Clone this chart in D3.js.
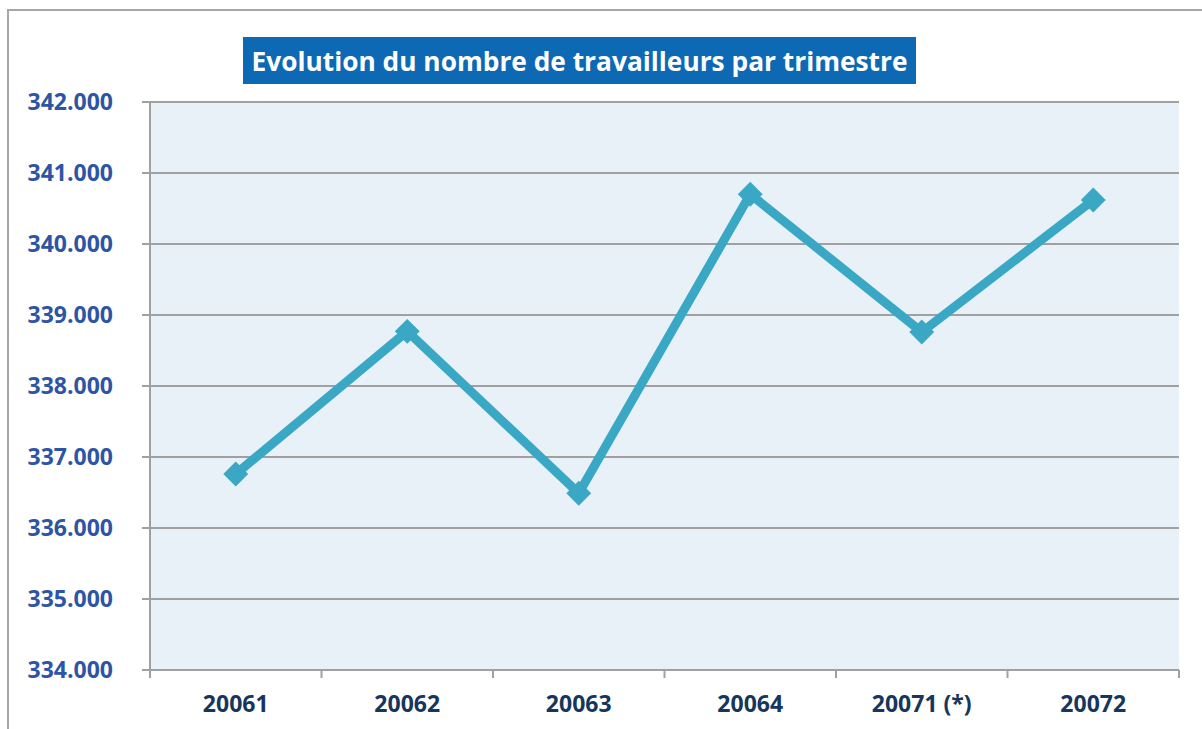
<!DOCTYPE html>
<html>
<head>
<meta charset="utf-8">
<script src="https://cdn.jsdelivr.net/npm/d3@7"></script>
<style>
  body { margin: 0; background: #fff; }
  svg { display: block; }
</style>
</head>
<body>
<svg id="chart" width="1202" height="729"></svg>
<script>
// trimestres et nombre de travailleurs (en milliers)
var quarters = ["20061", "20062", "20063", "20064", "20071 (*)", "20072"];
var workers = [336.76, 338.77, 336.49, 340.70, 338.76, 340.62];
var yTicks = [334, 335, 336, 337, 338, 339, 340, 341, 342];
var title = "Evolution du nombre de travailleurs par trimestre";

var svg = d3.select("#chart");
var margin = { left: 150, right: 23, top: 102, bottom: 59 };
var width = 1202 - margin.left - margin.right;
var height = 729 - margin.top - margin.bottom;

// cadre du graphique
svg.append("rect")
    .attr("x", 8).attr("y", 10)
    .attr("width", 1202).attr("height", 740)
    .attr("fill", "none")
    .attr("stroke", "#a6a6a6")
    .attr("stroke-width", 2);

var g = svg.append("g")
    .attr("transform", "translate(" + margin.left + "," + margin.top + ")");

var x = d3.scaleBand().domain(quarters).range([0, width]);
var y = d3.scaleLinear().domain([334, 342]).range([height, 0]);

g.append("rect")
    .attr("width", width).attr("height", height)
    .attr("fill", "#e8f1f7");

// quadrillage
g.selectAll(".grid")
    .data(yTicks)
    .enter().append("line")
    .attr("x1", -8).attr("x2", width)
    .attr("y1", function(d) { return y(d); })
    .attr("y2", function(d) { return y(d); })
    .attr("stroke", "#a0a0a0")
    .attr("stroke-width", 2);

g.append("line")
    .attr("x1", 0).attr("x2", 0)
    .attr("y1", 0).attr("y2", height + 8)
    .attr("stroke", "#a0a0a0")
    .attr("stroke-width", 2);

// axe des x : graduations entre les catégories
var bounds = quarters.map(function(q) { return x(q); }).concat([width]);
g.selectAll(".xtick")
    .data(bounds)
    .enter().append("line")
    .attr("x1", function(d) { return d; })
    .attr("x2", function(d) { return d; })
    .attr("y1", height).attr("y2", height + 8)
    .attr("stroke", "#a0a0a0")
    .attr("stroke-width", 2);

g.selectAll(".xlab")
    .data(quarters)
    .enter().append("text")
    .attr("x", function(d) { return x(d) + x.bandwidth() / 2; })
    .attr("y", height + 42)
    .attr("text-anchor", "middle")
    .attr("fill", "#17365d")
    .style("font", "bold 23px 'Open Sans', sans-serif")
    .text(function(d) { return d; });

g.selectAll(".ylab")
    .data(yTicks)
    .enter().append("text")
    .attr("x", -37)
    .attr("y", function(d) { return y(d) + 8; })
    .attr("text-anchor", "end")
    .attr("fill", "#2e55a5")
    .style("font", "bold 23px 'Open Sans', sans-serif")
    .text(function(d) { return d3.format(".3f")(d); });

// courbe
var line = d3.line()
    .x(function(d, i) { return x(quarters[i]) + x.bandwidth() / 2; })
    .y(function(d) { return y(d); });

g.append("path")
    .datum(workers)
    .attr("d", line)
    .attr("fill", "none")
    .attr("stroke", "#3aa8c5")
    .attr("stroke-width", 9)
    .attr("stroke-linejoin", "miter");

g.selectAll(".pt")
    .data(workers)
    .enter().append("path")
    .attr("d", d3.symbol().type(d3.symbolSquare).size(310))
    .attr("transform", function(d, i) {
        return "translate(" + (x(quarters[i]) + x.bandwidth() / 2) + "," + y(d) + ") rotate(45)";
    })
    .attr("fill", "#3aa8c5");

// titre
svg.append("rect")
    .attr("x", 243).attr("y", 37)
    .attr("width", 673).attr("height", 47)
    .attr("fill", "#0d69b4");

svg.append("text")
    .attr("x", 579.5).attr("y", 71)
    .attr("text-anchor", "middle")
    .attr("fill", "#fff")
    .attr("textLength", 656)
    .attr("lengthAdjust", "spacingAndGlyphs")
    .style("font", "bold 27px 'Open Sans', sans-serif")
    .text(title);
</script>
</body>
</html>
